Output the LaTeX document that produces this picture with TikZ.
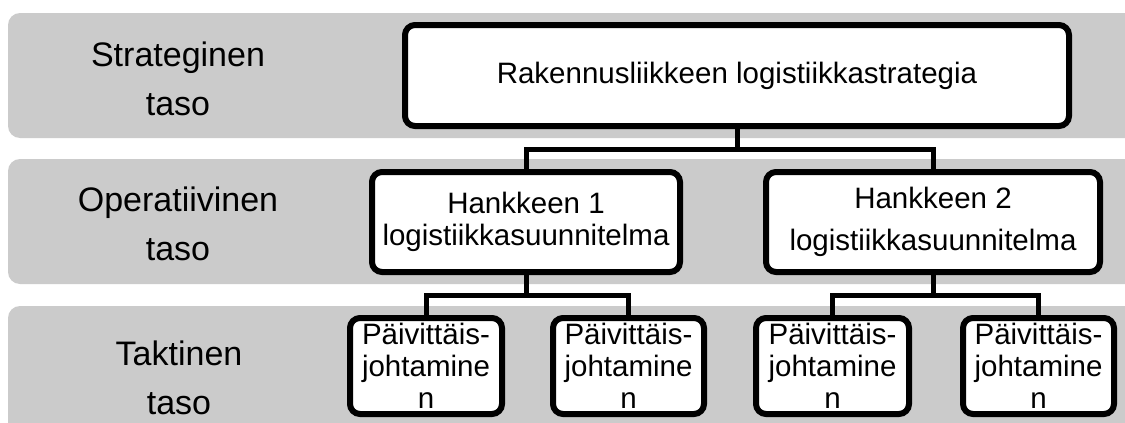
\documentclass[tikz,border=0pt]{standalone}
\usepackage{fontspec}
\setmainfont{Liberation Sans}
\usetikzlibrary{calc}
\definecolor{bandgray}{HTML}{CBCBCB}
\tikzset{
  band/.style={fill=bandgray, draw=none, rounded corners=12pt},
  lvl/.style={align=center, inner sep=0pt, font=\fontsize{34}{49}\selectfont},
  box/.style={draw=black, fill=white, line width=6pt, rounded corners=10pt,
    align=center, inner sep=0pt, font=\fontsize{29.5}{32}\selectfont},
  conn/.style={draw=black, line width=5pt}
}
\begin{document}
\begin{tikzpicture}[x=1pt, y=-1pt]
\path[use as bounding box, clip] (0,0) rectangle (1125,423);
\fill[white] (0,0) rectangle (1125,423);
% bands
\path[band] (8,13) rectangle (1160,138);
\path[band] (8,159) rectangle (1160,284);
\path[band] (8,306) rectangle (1160,460);
% level labels
\node[lvl] (l1) at (178,79) {Strateginen\\taso};
\node[lvl] (l2) at (178,224) {Operatiivinen\\taso};
\node[lvl] (l3) at (179,378) {Taktinen\\taso};
% boxes
\node[box, minimum width=664pt, minimum height=101pt] (top) at (737,75.5) {Rakennusliikkeen logistiikkastrategia};
\node[box, minimum width=308pt, minimum height=100pt] (h1) at (526,222) {Hankkeen 1\\logistiikkasuunnitelma};
\node[box, minimum width=334pt, minimum height=100pt, font=\fontsize{29.5}{42}\selectfont] (h2) at (933,222) {Hankkeen 2\\logistiikkasuunnitelma};
\node[box, minimum width=152pt, minimum height=96pt] (p1) at (426,366) {Päivittäis-\\johtamine\\n};
\node[box, minimum width=151pt, minimum height=96pt] (p2) at (628.5,366) {Päivittäis-\\johtamine\\n};
\node[box, minimum width=153pt, minimum height=96pt] (p3) at (832.5,366) {Päivittäis-\\johtamine\\n};
\node[box, minimum width=151pt, minimum height=96pt] (p4) at (1038.5,366) {Päivittäis-\\johtamine\\n};
% connectors
\coordinate (b0) at ($(top.south)!0.5!(top.south |- h1.north)$);
\draw[conn] (top.south) -- (b0) -| (h1.north);
\draw[conn] (b0) -| (h2.north);
\coordinate (b1) at ($(h1.south)!0.5!(h1.south |- p1.north)$);
\draw[conn] (h1.south) -- (b1) -| (p1.north);
\draw[conn] (b1) -| (p2.north);
\coordinate (b2) at ($(h2.south)!0.5!(h2.south |- p3.north)$);
\draw[conn] (h2.south) -- (b2) -| (p3.north);
\draw[conn] (b2) -| (p4.north);
\end{tikzpicture}
\end{document}
